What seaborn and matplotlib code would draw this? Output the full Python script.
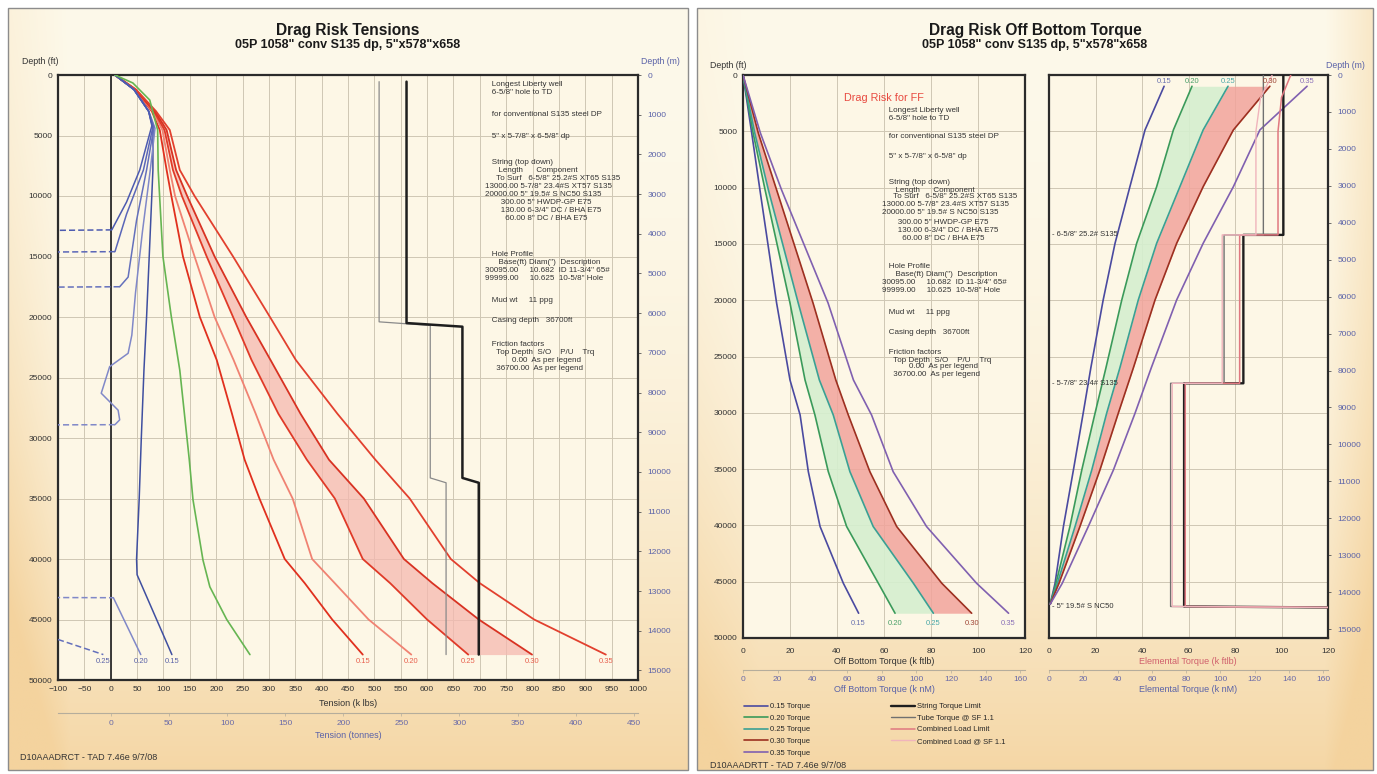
"""
Drag Risk - tensiones y torque fuera de fondo (dos paneles)
"""
import numpy as np
import pandas as pd
import matplotlib
matplotlib.use('Agg')
import matplotlib.pyplot as plt
import seaborn as sns
from matplotlib.patches import Rectangle

sns.set_theme(style='white')
plt.rcParams['font.family'] = ['Liberation Sans', 'DejaVu Sans']

# ---------------- Datos: tensiones (k lbs) vs profundidad (ft) ----------------
pu_depth = [0, 1200, 3000, 4545, 7850, 10000, 15000, 20000, 23550, 28000,
            31800, 35000, 40000, 42000, 45000, 47900]
pu_015 = [8, 45, 78, 93, 106, 115, 137, 169, 201, 230, 254, 282, 330, 368, 420, 478]
pu_020 = [8, 45, 80, 98, 112, 122, 159, 197, 233, 275, 309, 345, 382, 425, 489, 570]
pu_025 = [8, 46, 82, 102, 118, 135, 182, 232, 267, 318, 372, 425, 478, 530, 600, 678]
pu_030 = [8, 47, 84, 106, 124, 145, 197, 257, 303, 360, 414, 480, 556, 610, 698, 799]
pu_035 = [8, 48, 86, 112, 131, 159, 232, 302, 351, 430, 502, 567, 645, 700, 803, 939]

so_015_d = [0, 1200, 3000, 4400, 7850, 15000, 20000, 24400, 30000, 35000, 40000,
            41300, 43500, 45500, 47900]
so_015 = [8, 44, 72, 80, 80, 73, 68, 63, 58, 54, 49, 50, 72, 92, 116]
so_020_d = [0, 1200, 3000, 4400, 7850, 13000, 18000, 21500, 23000, 24100, 26300,
            27700, 28500, 28900, 28950, 43150, 43200, 47900]
so_020 = [8, 44, 72, 84, 75, 60, 47, 40, 33, -2, -18, 14, 17, 8, -400, -400, 5, 57]
so_025_d = [0, 1200, 3000, 4300, 7850, 12000, 16700, 17500, 17600, 46600, 46650, 47900]
so_025 = [8, 44, 72, 82, 68, 49, 33, 17, -400, -400, -100, -14]
so_030_d = [0, 1200, 3000, 4300, 7850, 11500, 14600, 14700]
so_030 = [8, 44, 72, 80, 62, 30, 8, -400]
so_035_d = [0, 1200, 3000, 4200, 7850, 10500, 12800, 12950]
so_035 = [8, 44, 72, 78, 55, 30, 2, -400]

rot_d = [0, 660, 2070, 4545, 7850, 15000, 20000, 24400, 31800, 35100, 40100,
         42300, 45000, 47900]
rot = [8, 42, 74, 89, 90, 99, 115, 131, 149, 156, 175, 188, 220, 264]

lim_d = [550, 20500, 20800, 33300, 33700, 47900]
lim_hard = [561, 561, 667, 667, 698, 698]
lim_soft_d = [550, 20400, 20700, 33300, 33700, 47900]
lim_soft = [509, 509, 606, 606, 636, 636]

ff_labels = ['0.15', '0.20', '0.25', '0.30', '0.35']

# ---------------- Datos: torque fuera de fondo (k ftlb) ----------------
tq_d = [0, 5150, 10200, 20250, 27090, 30190, 35230, 40100, 45140, 47800]
tq_015 = [0, 3.7, 7.2, 14.3, 20, 24.3, 27.8, 32.8, 42.7, 49.2]
tq_020 = [0, 4.3, 9.4, 20, 26.4, 30.6, 36.3, 44.1, 57.6, 64.7]
tq_025 = [0, 5, 10.8, 23.5, 32.5, 38.4, 45.5, 55.4, 72.5, 81]
tq_030 = [0, 6.5, 14.3, 29.8, 39.5, 44.8, 54, 65.4, 84.6, 97.3]
tq_035 = [0, 7.4, 16.4, 36.2, 47, 54.7, 63.9, 78.1, 99.4, 113]

el_d = [1000, 4880, 9920, 14950, 19980, 26000, 30040, 35080, 40100, 45140, 47000]
el_015 = [49.5, 41.3, 34.8, 28.4, 23.3, 18, 14.7, 10.5, 6.2, 2.6, 0.5]
el_020 = [61.5, 53.5, 46.3, 37.7, 31.3, 24.5, 19.8, 14.1, 9, 3.0, 0.5]
el_025 = [77, 66.3, 56.3, 46.3, 38.4, 30.5, 24.8, 18.4, 11.2, 3.6, 0.5]
el_030 = [95, 79.3, 66.3, 54.9, 45.6, 36.3, 29.8, 21.9, 13.3, 4.3, 0.5]
el_035 = [111, 90.7, 79.3, 66.3, 54.9, 44, 37, 27.7, 16.9, 5.7, 0.5]

seccion_d = [0, 14200, 14200, 27380, 27380, 47200, 47300]
string_lim = [100.8, 100.8, 83.6, 83.6, 58.1, 58.1, 130]
tube_lim = [92.2, 92.2, 75.3, 75.3, 52.3, 52.3, 130]
comb_d = [0, 2000, 5000, 14200, 14200, 27380, 27380, 47200, 47300]
comb_lim = [104, 100, 98.5, 98.5, 82, 82, 58.6, 58.6, 130]
comb_sf = [96, 91, 89, 89, 74.5, 74.5, 53, 53, 130]
seccion_txt = ['6-5/8" 25.2# S135', '5-7/8" 23.4# S135', '5" 19.5# S NC50']
seccion_txt_d = [14200, 27380, 47200]

info_lines = [
    '   Longest Liberty well',
    '   6-5/8" hole to TD',
    '   for conventional S135 steel DP',
    '   5" x 5-7/8" x 6-5/8" dp',
    '   String (top down)',
    '      Length      Component',
    '     To Surf   6-5/8" 25.2#S XT65 S135',
    '13000.00 5-7/8" 23.4#S XT57 S135',
    '20000.00 5" 19.5# S NC50 S135',
    '       300.00 5" HWDP-GP E75',
    '       130.00 6-3/4" DC / BHA E75',
    '         60.00 8" DC / BHA E75',
    '   Hole Profile',
    '      Base(ft) Diam(")  Description',
    '30095.00     10.682  ID 11-3/4" 65#',
    '99999.00     10.625  10-5/8" Hole',
    '   Mud wt     11 ppg',
    '   Casing depth   36700ft',
    '   Friction factors',
    '     Top Depth  S/O    P/U    Trq',
    '            0.00  As per legend',
    '     36700.00  As per legend',
]
info_y_izq = [85, 93, 115, 137, 163, 171, 179, 187, 195, 203, 211, 219,
              255, 263, 271, 279, 300, 320, 345, 353, 361, 369]
info_y_der = [110, 118, 137, 157, 182, 190, 197, 205, 213, 222, 230, 239,
              267, 274, 282, 290, 313, 333, 353, 360, 367, 374]

W, H = 1377, 774
FT2M = 0.3048
KLB2T = 1 / 2.2046
KFT2KNM = 1.35582

C_TXT = '#333333'
C_AZUL_TXT = '#5a62a8'


def rect(x0, y0, x1, y1):
    return [x0 / W, 1 - y1 / H, (x1 - x0) / W, (y1 - y0) / H]


def panel_bg(ax, x0, x1, y0, y1, left_w, right_w):
    n = 300
    xx = np.linspace(0, 1, n)[None, :]
    yy = np.linspace(0, 1, n)[:, None]
    t = 0.9 * yy ** 2.2
    t = t + left_w * np.clip(1 - xx / 0.09, 0, 1) * (0.35 + 0.65 * yy)
    t = t + right_w * np.clip((xx - 0.93) / 0.07, 0, 1)
    t = np.clip(t, 0, 1)
    c0 = np.array([253, 249, 234]) / 255
    c1 = np.array([244, 211, 158]) / 255
    img = c0 + (c1 - c0) * t[..., None]
    ax.imshow(img, extent=(x0, x1, y1, y0), aspect='auto', zorder=0,
              interpolation='bilinear')
    ax.add_patch(Rectangle((x0, y0), x1 - x0, y1 - y0, fill=False,
                           ec='#8c8c8c', lw=1.0, zorder=1))


def estilo(ax, xlim, xticks):
    ax.set_facecolor('#fdf7e6')
    ax.set_xlim(*xlim)
    ax.set_ylim(50000, 0)
    ax.set_xticks(xticks)
    ax.set_yticks(range(0, 50001, 5000))
    ax.grid(True, color='#cfc7b4', lw=0.7)
    for s in ax.spines.values():
        s.set_color('#2b2b2b')
        s.set_linewidth(1.6)
    ax.tick_params(labelsize=6, length=2, width=0.6, colors=C_TXT, pad=2)
    ax.set_xlabel('')
    ax.set_ylabel('')


def curva(ax, xs, ds, color, lw=1.2, ls='-', z=3):
    df = pd.DataFrame({'valor': xs, 'prof': ds})
    sns.lineplot(data=df, x='valor', y='prof', sort=False, estimator=None,
                 color=color, linewidth=lw, linestyle=ls, ax=ax,
                 legend=False, zorder=z)
    return ax.lines[-1]


def curva_cortada(ax, xs, ds, color, lw, xmin=-100):
    # tramos dentro del grafico en solido, los que salen por la izquierda en discontinuo
    dentro = [x > xmin for x in xs]
    i = 0
    n = len(xs)
    while i < n - 1:
        j = i
        while j + 1 < n and dentro[j] and dentro[j + 1]:
            j += 1
        if j > i:
            curva(ax, xs[i:j + 1], ds[i:j + 1], color, lw=lw)
            i = j
        else:
            curva(ax, xs[i:i + 2], ds[i:i + 2], color, lw=lw, ls=(0, (4, 2)))
            i += 1


fig = plt.figure(figsize=(W / 100, H / 100), dpi=100)
fig.patch.set_facecolor('white')

bg = fig.add_axes([0, 0, 1, 1])
bg.set_xlim(0, W)
bg.set_ylim(H, 0)
bg.axis('off')
panel_bg(bg, 8, 688, 8, 770, 0.55, 0.0)
panel_bg(bg, 697, 1373, 8, 770, 0.25, 0.45)

# ======================= Panel izquierdo: tensiones =======================
axL = fig.add_axes(rect(58, 75, 638, 680))
axL.fill_betweenx(pu_depth[3:], pu_025[3:], pu_030[3:], color='#f5b9b0',
                  alpha=0.75, lw=0, zorder=2)
axL.axvline(0, color='#2b2b2b', lw=1.3, zorder=2)

rojos = ['#e0301e', '#f08272', '#e03a28', '#d83222', '#e2402e']
for vals, c in zip([pu_015, pu_020, pu_025, pu_030, pu_035], rojos):
    curva(axL, vals, pu_depth, c, lw=1.3)
azules = ['#3f4fa0', '#8088c8', '#6470bc', '#5a66b8', '#4c5ab0']
so_all = [(so_015, so_015_d), (so_020, so_020_d), (so_025, so_025_d),
          (so_030, so_030_d), (so_035, so_035_d)]
for (vals, ds), c in zip(so_all, azules):
    curva_cortada(axL, vals, ds, c, lw=1.1)
curva(axL, rot, rot_d, '#66b552', lw=1.2)
curva(axL, lim_soft, lim_soft_d, '#8a8a8a', lw=0.9)
curva(axL, lim_hard, lim_d, '#1e1e1e', lw=1.8)

estilo(axL, (-100, 1000), range(-100, 1001, 50))

lab_d = 48500
for vals, lab in zip([pu_015, pu_020, pu_025, pu_030, pu_035], ff_labels):
    axL.text(vals[-1], lab_d, lab, fontsize=5.5, color='#e8604e',
             ha='center', va='center', zorder=5)
for (vals, ds), lab in zip(so_all[:3], ff_labels[:3]):
    axL.text(vals[-1], lab_d, lab, fontsize=5.5, color=C_AZUL_TXT,
             ha='center', va='center', zorder=5)
for y, s in zip(info_y_izq, info_lines):
    axL.text(485, y, s, fontsize=5.8, color=C_TXT, va='center', ha='left',
             transform=bg.transData, zorder=6)

secL = axL.secondary_xaxis(-0.0545, functions=(lambda k: k * KLB2T,
                                               lambda t: t / KLB2T))
secL.set_xticks(range(0, 451, 50))
secL.tick_params(labelsize=6, length=2, width=0.5, colors='#b5ad9c',
                 labelcolor='#6a6aa8', pad=3)
secL.spines['bottom'].set_color('#b5ad9c')
secL.spines['bottom'].set_linewidth(0.8)

secLy = axL.secondary_yaxis('right', functions=(lambda d: d * FT2M,
                                                lambda m: m / FT2M))
secLy.set_yticks(range(0, 15001, 1000))
secLy.tick_params(labelsize=6, length=2, width=0.6, colors='#555',
                  labelcolor=C_AZUL_TXT, pad=5)
secLy.spines['right'].set_visible(False)

# ================ Panel derecho: torque fuera de fondo y elemental ================
colores_tq = ['#4a4aa0', '#3a9a5a', '#3aa094', '#9c3020', '#8060b0']
colores_lab = ['#6a72b0', '#4aa068', '#4aa8a8', '#a04838', '#8a70b8']

axT = fig.add_axes(rect(743, 75, 1025, 638))
axT.fill_betweenx(tq_d, tq_020, tq_025, color='#d5efcf', alpha=0.9, lw=0, zorder=2)
axT.fill_betweenx(tq_d, tq_025, tq_030, color='#f2a49c', alpha=0.85, lw=0, zorder=2)
h_tq = []
for vals, c in zip([tq_015, tq_020, tq_025, tq_030, tq_035], colores_tq):
    h_tq.append(curva(axT, vals, tq_d, c, lw=1.2))
estilo(axT, (0, 120), range(0, 121, 20))
axT.tick_params(axis='x', pad=5)
for vals, lab, c in zip([tq_015, tq_020, tq_025, tq_030, tq_035], ff_labels, colores_lab):
    axT.text(vals[-1], 48700, lab, fontsize=5.5, color=c, ha='center',
             va='center', zorder=5)
axT.text(60, 2000, 'Drag Risk for FF', fontsize=7.8, color='#e84a40',
         ha='center', va='center', zorder=5)
for y, s in zip(info_y_der, info_lines):
    axT.text(882, y, s, fontsize=5.8, color=C_TXT, va='center', ha='left',
             transform=bg.transData, zorder=6)

axE = fig.add_axes(rect(1049, 75, 1328, 638))
axE.fill_betweenx(el_d, el_020, el_025, color='#d5efcf', alpha=0.9, lw=0, zorder=2)
axE.fill_betweenx(el_d, el_025, el_030, color='#f2a49c', alpha=0.85, lw=0, zorder=2)
for vals, c in zip([el_015, el_020, el_025, el_030, el_035], colores_tq):
    curva(axE, vals, el_d, c, lw=1.2)
h_lim = [curva(axE, string_lim, seccion_d, '#1e1e1e', lw=1.7),
         curva(axE, tube_lim, seccion_d, '#707070', lw=1.0),
         curva(axE, comb_lim, comb_d, '#e07880', lw=1.1),
         curva(axE, comb_sf, comb_d, '#f0b4bc', lw=1.0)]
estilo(axE, (0, 120), range(0, 121, 20))
axE.tick_params(axis='x', pad=5)
axE.tick_params(axis='y', labelleft=False, left=False)
for vals, lab, c in zip([el_015, el_020, el_025, el_030, el_035], ff_labels, colores_lab):
    axE.text(vals[0], 900, lab, fontsize=5.5, color=c, ha='center',
             va='bottom', zorder=5)
for s, d in zip(seccion_txt, seccion_txt_d):
    axE.text(1.5, d, '- ' + s, fontsize=5.5, color=C_TXT, ha='left',
             va='center', zorder=5)

for ax in (axT, axE):
    sec = ax.secondary_xaxis(-0.057, functions=(lambda k: k * KFT2KNM,
                                                lambda n: n / KFT2KNM))
    sec.set_xticks(range(0, 161, 20))
    sec.tick_params(labelsize=6, length=2, width=0.5, colors='#b5ad9c',
                    labelcolor='#6a6aa8', pad=2)
    sec.spines['bottom'].set_color('#b5ad9c')
    sec.spines['bottom'].set_linewidth(0.8)

secEy = axE.secondary_yaxis('right', functions=(lambda d: d * FT2M,
                                                lambda m: m / FT2M))
secEy.set_yticks(range(0, 15001, 1000))
secEy.tick_params(labelsize=6, length=2, width=0.6, colors='#555',
                  labelcolor=C_AZUL_TXT, pad=5)
secEy.spines['right'].set_visible(False)

leg1 = fig.legend(h_tq, [f'{f} Torque' for f in ff_labels], loc='upper left',
                  bbox_to_anchor=(744 / W, 1 - 703 / H), frameon=False,
                  fontsize=5.5, handlelength=3.2, handletextpad=0.2,
                  labelspacing=0.55, borderpad=0, borderaxespad=0)
leg2 = fig.legend(h_lim, ['String Torque Limit', 'Tube Torque @ SF 1.1',
                          'Combined Load Limit', 'Combined Load @ SF 1.1'],
                  loc='upper left', bbox_to_anchor=(891 / W, 1 - 703 / H),
                  frameon=False, fontsize=5.5, handlelength=3.2,
                  handletextpad=0.2, labelspacing=0.55, borderpad=0,
                  borderaxespad=0)

# ======================= Textos libres =======================
ov = fig.add_axes([0, 0, 1, 1])
ov.set_xlim(0, W)
ov.set_ylim(H, 0)
ov.axis('off')
ov.set_zorder(10)

titulo_sub = '05P 1058" conv S135 dp, 5"x578"x658'
ov.text(348, 30, 'Drag Risk Tensions', fontsize=11.2, fontweight='bold',
        ha='center', va='center', color='#1a1a1a')
ov.text(348, 45, titulo_sub, fontsize=9.0, fontweight='bold', ha='center',
        va='center', color='#1a1a1a')
ov.text(1035, 30, 'Drag Risk Off Bottom Torque', fontsize=11.2,
        fontweight='bold', ha='center', va='center', color='#1a1a1a')
ov.text(1035, 45, titulo_sub, fontsize=9.0, fontweight='bold', ha='center',
        va='center', color='#1a1a1a')

ov.text(40, 62, 'Depth (ft)', fontsize=6.3, ha='center', va='center', color=C_TXT)
ov.text(660, 62, 'Depth (m)', fontsize=6.3, ha='center', va='center', color=C_AZUL_TXT)
ov.text(728, 66, 'Depth (ft)', fontsize=6.3, ha='center', va='center', color=C_TXT)
ov.text(1345, 66, 'Depth (m)', fontsize=6.3, ha='center', va='center', color=C_AZUL_TXT)

ov.text(348, 703, 'Tension (k lbs)', fontsize=6.5, ha='center', va='center', color=C_TXT)
ov.text(348, 735, 'Tension (tonnes)', fontsize=6.5, ha='center', va='center', color=C_AZUL_TXT)
ov.text(884, 661, 'Off Bottom Torque (k ftlb)', fontsize=6.5, ha='center',
        va='center', color=C_TXT)
ov.text(884, 689, 'Off Bottom Torque (k nM)', fontsize=6.5, ha='center',
        va='center', color=C_AZUL_TXT)
ov.text(1188, 661, 'Elemental Torque (k ftlb)', fontsize=6.5, ha='center',
        va='center', color='#d0606c')
ov.text(1188, 689, 'Elemental Torque (k nM)', fontsize=6.5, ha='center',
        va='center', color=C_AZUL_TXT)

ov.text(20, 757, 'D10AAADRCT - TAD 7.46e 9/7/08', fontsize=6.5, ha='left',
        va='center', color=C_TXT)
ov.text(710, 765, 'D10AAADRTT - TAD 7.46e 9/7/08', fontsize=6.5, ha='left',
        va='center', color=C_TXT)

fig.savefig('out.png', dpi=100)
